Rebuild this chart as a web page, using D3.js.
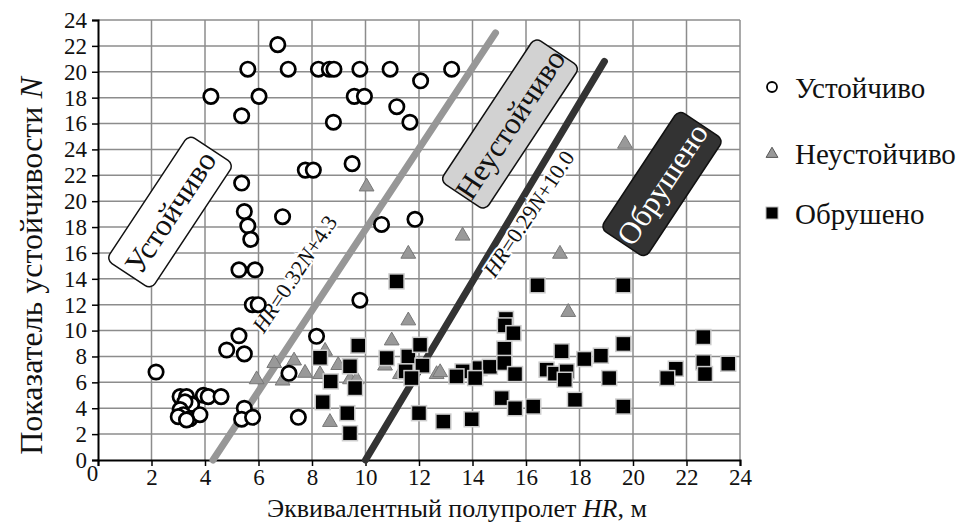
<!DOCTYPE html>
<html>
<head>
<meta charset="utf-8">
<script src="https://d3js.org/d3.v7.min.js"></script>
<style>
  body { margin: 0; background: #fff; }
  svg, svg text { font-family: 'Liberation Serif', 'DejaVu Serif', 'Times New Roman', serif !important; }
</style>
</head>
<body>
<svg id="chart"></svg>
<script>

// y values are in axis position units: 0..24 real, then the axis restarts (26..34 labelled 16..24)
var yTickPos = d3.range(0, 35, 2);
var yTickLabels = ["0","2","4","6","8","10","12","14","16","18","20","22","24","16","18","20","22","24"];
var xTicks = d3.range(0, 25, 2);

var stableHR = [6.72,5.6,7.11,8.24,8.65,8.82,9.79,10.92,13.22,4.22,6.02,9.58,9.96,12.06,5.37,8.8,11.17,11.66,
  7.75,8.05,9.5,5.37,5.47,5.6,5.71,6.9,10.6,11.85,
  5.27,5.87,5.77,5.99,5.27,4.81,5.47,2.17,9.79,8.17,7.14,
  3.07,3.31,3.94,4.12,4.6,3.5,3.25,3.07,3.19,3.44,3.81,3.0,3.31,5.47,5.37,5.78,7.49];
var stableN = [32.1,30.2,30.2,30.2,30.2,30.2,30.2,30.2,30.2,28.1,28.1,28.1,28.1,29.3,26.6,26.1,27.3,26.1,
  22.4,22.4,22.9,21.4,19.2,18.1,17.05,18.8,18.2,18.6,
  14.7,14.7,12.0,12.0,9.6,8.5,8.2,6.8,12.35,9.56,6.7,
  4.9,4.9,5.0,4.9,4.9,4.3,4.5,3.9,3.5,3.2,3.5,3.35,3.1,4.0,3.15,3.3,3.3];

var unstableHR = [6.59,7.33,5.93,6.9,7.74,8.49,8.98,8.3,9.42,9.67,8.67,11.6,11.6,10.98,10.73,11.29,12.66,
  10.04,13.63,12.79,17.27,17.58,19.7];
var unstableN = [7.55,7.75,6.3,6.2,6.8,8.5,7.4,6.7,6.3,6.3,3.0,16.0,10.85,9.3,7.36,6.7,6.7,
  21.2,17.4,6.85,16.0,11.5,24.5];

var collapsedHR = [11.16,9.73,8.3,9.42,8.7,9.61,8.4,9.32,9.42,10.79,11.6,12.04,12.13,11.5,11.72,12.0,
  12.91,13.97,13.63,13.4,14.26,14.65,14.1,15.25,15.21,15.53,15.19,15.19,15.59,15.09,15.59,16.27,
  16.43,17.33,16.77,17.08,17.52,17.45,17.83,19.64,18.18,18.8,19.11,19.64,19.64,21.6,21.28,22.63,22.63,22.69,23.56];
var collapsedN = [13.8,8.84,7.9,7.24,6.07,5.56,4.47,3.62,2.07,7.88,8.0,8.9,7.29,6.85,6.33,3.62,
  2.97,3.15,6.85,6.46,7.1,7.2,6.33,10.9,10.4,9.8,8.6,7.5,6.64,4.78,4.0,4.13,
  13.5,8.4,6.98,6.67,6.85,6.2,4.65,13.5,7.8,8.06,6.33,8.97,4.13,7.05,6.33,9.5,7.55,6.64,7.44];

// boundary lines HR = a*N + b
var lineA = [0.32, 4.3], lineANmax = 33;
var lineB = [0.29, 10.0], lineBNmax = 30.8;

var legendNames = ["Устойчиво", "Неустойчиво", "Обрушено"];
var zoneNames = ["Устойчиво", "Неустойчиво", "Обрушено"];

var FONT = "'Liberation Serif', 'DejaVu Serif', serif";
var width = 963, height = 526;
var svg = d3.select("#chart").attr("width", width).attr("height", height)
  .attr("font-family", FONT);

var x = d3.scaleLinear().domain([0, 24]).range([98, 740]);
var y = d3.scaleLinear().domain([0, 34]).range([460, 20]);

// grid
svg.append("g").selectAll("line").data(xTicks.slice(1)).enter().append("line")
  .attr("x1", d => x(d)).attr("x2", d => x(d)).attr("y1", y(0)).attr("y2", y(34))
  .attr("stroke", "#8c8c8c").attr("stroke-width", 1.5);
svg.append("g").selectAll("line").data(yTickPos.slice(1)).enter().append("line")
  .attr("x1", x(0)).attr("x2", x(24)).attr("y1", d => y(d)).attr("y2", d => y(d))
  .attr("stroke", "#8c8c8c").attr("stroke-width", 1.5);

// axes
var xAxis = svg.append("g").attr("transform", "translate(0," + y(0) + ")")
  .call(d3.axisBottom(x).tickValues(xTicks).tickSize(6).tickPadding(3));
var yAxis = svg.append("g").attr("transform", "translate(" + x(0) + ",0)")
  .call(d3.axisLeft(y).tickValues(yTickPos).tickSize(6).tickPadding(5)
    .tickFormat((d, i) => yTickLabels[i]));
[xAxis, yAxis].forEach(function (a) {
  a.attr("font-family", FONT).attr("font-size", 23);
  a.select(".domain").attr("stroke", "#000").attr("stroke-width", 2);
  a.selectAll(".tick line").attr("stroke", "#000").attr("stroke-width", 1.5);
  a.selectAll("text").attr("fill", "#111");
});
xAxis.selectAll(".tick").filter(d => d === 0).select("text").attr("dx", -6).attr("dy", "0.5em");

// boundary lines
function bLine(p, nmax, col) {
  svg.append("line")
    .attr("x1", x(p[1])).attr("y1", y(0))
    .attr("x2", x(p[0] * nmax + p[1])).attr("y2", y(nmax))
    .attr("stroke", col).attr("stroke-width", 7).attr("stroke-linecap", "round");
}
bLine(lineA, lineANmax, "#979797");
bLine(lineB, lineBNmax, "#333");

var ang = -Math.atan2(y(0) - y(10), x(3.2) - x(0)) * 180 / Math.PI;

function eqLabel(cx, cy, a, b) {
  var t = svg.append("text").attr("transform", "translate(" + cx + "," + cy + ") rotate(" + ang + ")")
    .attr("text-anchor", "middle").attr("font-size", 22).attr("fill", "#111")
    .attr("stroke", "#fff").attr("stroke-width", 4).attr("paint-order", "stroke");
  t.append("tspan").attr("font-style", "italic").text("HR");
  t.append("tspan").text("=" + a + "");
  t.append("tspan").attr("font-style", "italic").text("N");
  t.append("tspan").text("+" + b);
}
eqLabel(301, 278, "0.32", "4.3");
eqLabel(535, 218, "0.29", "10.0");

// zone boxes
function zoneBox(cx, cy, w, h, txt, fill, tcol) {
  var g = svg.append("g").attr("transform", "translate(" + cx + "," + cy + ") rotate(" + ang + ")");
  g.append("rect").attr("x", -w / 2).attr("y", -h / 2).attr("width", w).attr("height", h)
    .attr("rx", 7).attr("fill", fill).attr("stroke", "#111").attr("stroke-width", 1.5);
  g.append("text").attr("text-anchor", "middle").attr("dy", "0.35em")
    .attr("font-size", 31).attr("fill", tcol).text(txt);
}
zoneBox(170, 212, 150, 54, zoneNames[0], "#fff", "#111");
zoneBox(510, 124, 172, 54, zoneNames[1], "#d2d2d2", "#111");
zoneBox(662, 184, 142, 54, zoneNames[2], "#333", "#fff");

// markers
var tri = d3.symbol().type(d3.symbolTriangle).size(95);
svg.append("g").selectAll("path").data(d3.range(unstableHR.length)).enter().append("path")
  .attr("d", tri)
  .attr("transform", i => "translate(" + x(unstableHR[i]) + "," + (y(unstableN[i]) + 1) + ")")
  .attr("fill", "#999").attr("stroke", "#777").attr("stroke-width", 1);

svg.append("g").selectAll("rect").data(d3.range(collapsedHR.length)).enter().append("rect")
  .attr("x", i => x(collapsedHR[i]) - 7.5).attr("y", i => y(collapsedN[i]) - 7.5)
  .attr("width", 15).attr("height", 15)
  .attr("fill", "#000").attr("stroke", "#ccc").attr("stroke-width", 1.5);

svg.append("g").selectAll("circle").data(d3.range(stableHR.length)).enter().append("circle")
  .attr("cx", i => x(stableHR[i])).attr("cy", i => y(stableN[i])).attr("r", 7.2)
  .attr("fill", "#fff").attr("stroke", "#000").attr("stroke-width", 2.7);

// legend
var leg = svg.append("g").attr("transform", "translate(772,0)");
leg.append("circle").attr("cx", 0).attr("cy", 87).attr("r", 5).attr("fill", "#fff")
  .attr("stroke", "#000").attr("stroke-width", 1.8);
leg.append("path").attr("d", d3.symbol().type(d3.symbolTriangle).size(60))
  .attr("transform", "translate(0,154)").attr("fill", "#999").attr("stroke", "#555");
leg.append("rect").attr("x", -6).attr("y", 207).attr("width", 12).attr("height", 12)
  .attr("fill", "#000").attr("stroke", "#bbb");
leg.selectAll("text").data(legendNames).enter().append("text")
  .attr("x", 23).attr("y", (d, i) => [88, 154, 214][i]).attr("dy", "0.35em")
  .attr("font-size", 29).attr("fill", "#111").text(d => d);

// axis titles
var xt = svg.append("text").attr("x", 457).attr("y", 517).attr("text-anchor", "middle")
  .attr("font-size", 26).attr("fill", "#111");
xt.append("tspan").text("Эквивалентный полупролет ");
xt.append("tspan").attr("font-style", "italic").text("HR");
xt.append("tspan").text(", м");

var yt = svg.append("text").attr("transform", "translate(42,266) rotate(-90)")
  .attr("text-anchor", "middle").attr("font-size", 32).attr("fill", "#111");
yt.append("tspan").text("Показатель устойчивости ");
yt.append("tspan").attr("font-style", "italic").text("N");

</script>
</body>
</html>
